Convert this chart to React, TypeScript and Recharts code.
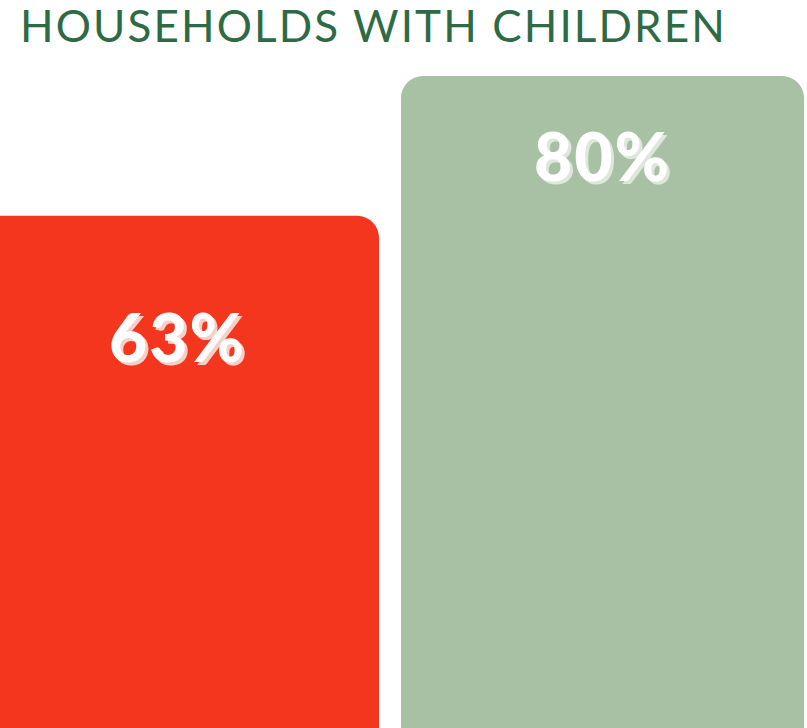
import { BarChart, Bar, XAxis, YAxis, LabelList, Cell } from "recharts";

const categories = ["Group A", "Group B"];
const shares = [63, 80];
const barColors = ["#f5361f", "#a8c1a5"];
const shadowColors = ["#f6cfc6", "#dde8da"];
const labelOffsets = [146, 105];

const data = categories.map((name, i) => ({ name, value: shares[i] }));

function PercentLabel(props: any) {
  const { x, y, width, value, index } = props;
  const cx = Number(x) + Number(width) / 2;
  const cy = Number(y) + labelOffsets[index];
  const filterId = `pct-shadow-${index}`;
  return (
    <g>
      <defs>
        <filter id={filterId} x="-10%" y="-10%" width="130%" height="130%">
          <feDropShadow dx={3} dy={3} stdDeviation={0.4} floodColor={shadowColors[index]} floodOpacity={1} />
        </filter>
      </defs>
      <text
        x={cx}
        y={cy}
        textAnchor="middle"
        fill="#ffffff"
        filter={`url(#${filterId})`}
        style={{
          fontFamily: "Lato, 'Open Sans', sans-serif",
          fontWeight: 900,
          fontSize: 66,
          letterSpacing: 2,
        }}
      >
        {value}%
      </text>
    </g>
  );
}

export default function App() {
  return (
    <div
      style={{
        position: "absolute",
        top: 0,
        left: 0,
        width: 807,
        height: 728,
        overflow: "hidden",
        background: "#ffffff",
      }}
    >
      <div
        style={{
          position: "absolute",
          top: -1,
          left: 20,
          fontFamily: "Lato, sans-serif",
          fontWeight: 400,
          fontSize: 44,
          lineHeight: "52px",
          letterSpacing: 2.1,
          color: "#2e6a44",
          whiteSpace: "nowrap",
        }}
      >
        HOUSEHOLDS WITH CHILDREN
      </div>
      <div style={{ position: "absolute", top: 0, left: -35 }}>
        <BarChart
          width={850}
          height={734}
          data={data}
          margin={{ top: 76, right: 0, bottom: 0, left: 0 }}
          barCategoryGap={0}
        >
          <XAxis dataKey="name" hide />
          <YAxis hide domain={[0, 80]} />
          <Bar dataKey="value" barSize={403} radius={[22, 22, 0, 0]} isAnimationActive={false}>
            {data.map((d, i) => (
              <Cell key={d.name} fill={barColors[i]} />
            ))}
            <LabelList dataKey="value" content={PercentLabel} />
          </Bar>
        </BarChart>
      </div>
    </div>
  );
}
